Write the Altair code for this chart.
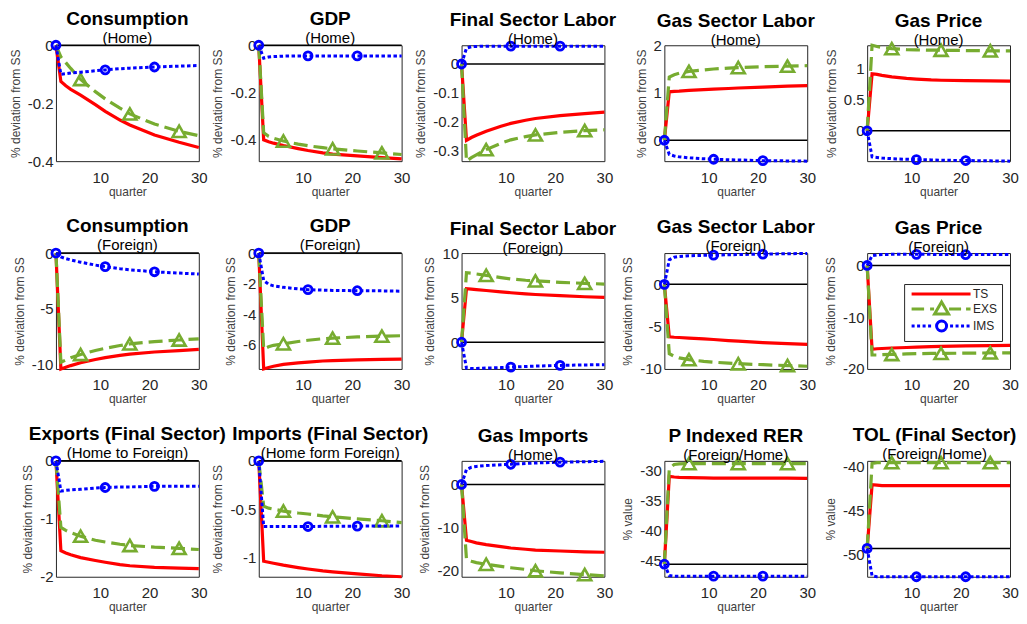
import altair as alt
import pandas as pd

FONT = "Liberation Sans"
RED = "#ff0000"
GREEN = "#77ac30"
BLUE = "#0000ff"

Q = [1, 2, 3, 4, 6, 9, 11, 14, 16, 21, 26, 30]
EXS_MARK_Q = [6, 16, 26]
IMS_MARK_Q = [1, 11, 21]
X_TICKS = [10, 20, 30]
SERIES = ["TS", "EXS", "IMS"]

# ---- Row 1 (Home)
cons_home_ts = [0, -0.125, -0.14, -0.152, -0.172, -0.205, -0.228, -0.258, -0.275, -0.31, -0.335, -0.353]
cons_home_exs = [0, -0.04, -0.06, -0.08, -0.118, -0.16, -0.185, -0.217, -0.237, -0.272, -0.297, -0.312]
cons_home_ims = [0, -0.1, -0.098, -0.096, -0.093, -0.088, -0.085, -0.081, -0.079, -0.075, -0.072, -0.07]

gdp_home_ts = [0, -0.40, -0.408, -0.414, -0.424, -0.437, -0.445, -0.455, -0.46, -0.468, -0.475, -0.48]
gdp_home_exs = [0, -0.37, -0.385, -0.393, -0.405, -0.418, -0.425, -0.433, -0.438, -0.447, -0.455, -0.462]
gdp_home_ims = [0, -0.055, -0.05, -0.048, -0.046, -0.045, -0.045, -0.045, -0.045, -0.045, -0.045, -0.045]

fsl_home_ts = [0, -0.265, -0.255, -0.247, -0.233, -0.216, -0.206, -0.195, -0.189, -0.179, -0.172, -0.167]
fsl_home_exs = [0, -0.337, -0.325, -0.315, -0.297, -0.275, -0.263, -0.252, -0.246, -0.237, -0.231, -0.228]
fsl_home_ims = [0, 0.055, 0.06, 0.061, 0.062, 0.062, 0.062, 0.062, 0.062, 0.062, 0.062, 0.062]

gsl_home_ts = [0, 1.02, 1.03, 1.035, 1.05, 1.065, 1.075, 1.09, 1.1, 1.12, 1.14, 1.15]
gsl_home_exs = [0, 1.33, 1.38, 1.41, 1.45, 1.48, 1.5, 1.52, 1.53, 1.55, 1.56, 1.57]
gsl_home_ims = [0, -0.3, -0.33, -0.35, -0.37, -0.39, -0.4, -0.41, -0.415, -0.43, -0.435, -0.44]

gp_home_ts = [0, 0.92, 0.91, 0.895, 0.87, 0.845, 0.835, 0.82, 0.815, 0.81, 0.805, 0.80]
gp_home_exs = [0, 1.38, 1.36, 1.345, 1.325, 1.31, 1.305, 1.3, 1.3, 1.295, 1.29, 1.29]
gp_home_ims = [0, -0.42, -0.43, -0.44, -0.45, -0.46, -0.465, -0.47, -0.475, -0.48, -0.485, -0.49]

# ---- Row 2 (Foreign)
cons_for_ts = [0, -10.4, -10.25, -10.1, -9.85, -9.55, -9.38, -9.18, -9.07, -8.88, -8.75, -8.65]
cons_for_exs = [0, -9.8, -9.6, -9.4, -9.1, -8.75, -8.55, -8.3, -8.15, -7.95, -7.8, -7.7]
cons_for_ims = [0, -0.35, -0.5, -0.62, -0.82, -1.08, -1.22, -1.4, -1.5, -1.68, -1.8, -1.88]

gdp_for_ts = [0, -7.6, -7.5, -7.42, -7.3, -7.2, -7.15, -7.08, -7.05, -7.0, -6.97, -6.95]
gdp_for_exs = [0, -6.3, -6.15, -6.05, -5.95, -5.8, -5.72, -5.62, -5.58, -5.5, -5.45, -5.42]
gdp_for_ims = [0, -1.8, -2.05, -2.15, -2.25, -2.35, -2.4, -2.43, -2.45, -2.47, -2.48, -2.5]

fsl_for_ts = [0, 6.0, 5.95, 5.9, 5.8, 5.65, 5.55, 5.42, 5.35, 5.22, 5.1, 5.02]
fsl_for_exs = [0, 7.8, 7.75, 7.65, 7.5, 7.25, 7.1, 6.95, 6.88, 6.72, 6.6, 6.52]
fsl_for_ims = [0, -2.9, -2.95, -2.95, -2.9, -2.85, -2.8, -2.72, -2.68, -2.6, -2.55, -2.52]

gsl_for_ts = [0, -6.2, -6.25, -6.28, -6.35, -6.45, -6.52, -6.65, -6.72, -6.88, -7.0, -7.1]
gsl_for_exs = [0, -8.2, -8.5, -8.7, -8.9, -9.1, -9.2, -9.32, -9.38, -9.5, -9.6, -9.68]
gsl_for_ims = [0, 2.9, 3.2, 3.3, 3.38, 3.43, 3.45, 3.5, 3.52, 3.58, 3.62, 3.65]

gp_for_ts = [0, -16.2, -16.1, -16.05, -15.95, -15.85, -15.8, -15.7, -15.65, -15.55, -15.5, -15.45]
gp_for_exs = [0, -17.3, -17.3, -17.25, -17.2, -17.1, -17.05, -17.0, -17.0, -16.95, -16.9, -16.9]
gp_for_ims = [0, 1.9, 2.05, 2.1, 2.15, 2.15, 2.15, 2.15, 2.1, 2.1, 2.1, 2.1]

# ---- Row 3
exp_ts = [0, -1.55, -1.59, -1.62, -1.67, -1.72, -1.75, -1.79, -1.81, -1.84, -1.85, -1.86]
exp_exs = [0, -1.15, -1.2, -1.24, -1.3, -1.37, -1.4, -1.44, -1.46, -1.49, -1.51, -1.53]
exp_ims = [0, -0.52, -0.51, -0.5, -0.49, -0.47, -0.46, -0.45, -0.45, -0.44, -0.44, -0.44]

imp_ts = [0, -1.04, -1.05, -1.06, -1.08, -1.105, -1.12, -1.14, -1.15, -1.17, -1.19, -1.2]
imp_exs = [0, -0.47, -0.49, -0.5, -0.52, -0.54, -0.55, -0.57, -0.58, -0.6, -0.62, -0.64]
imp_ims = [0, -0.68, -0.68, -0.68, -0.68, -0.68, -0.68, -0.678, -0.677, -0.676, -0.675, -0.675]

gimp_ts = [0, -13.0, -13.3, -13.6, -14.0, -14.5, -14.8, -15.1, -15.3, -15.5, -15.7, -15.8]
gimp_exs = [0, -17.5, -17.9, -18.2, -18.6, -19.1, -19.4, -19.8, -20.1, -20.6, -21.0, -21.3]
gimp_ims = [0, 3.5, 4.0, 4.2, 4.4, 4.6, 4.7, 4.9, 5.0, 5.2, 5.3, 5.4]

rer_ts = [-45.7, -31.0, -31.1, -31.15, -31.2, -31.25, -31.28, -31.3, -31.3, -31.3, -31.3, -31.32]
rer_exs = [-45.7, -29.7, -29.0, -28.9, -28.85, -28.85, -28.85, -28.85, -28.85, -28.85, -28.85, -28.85]
rer_ims = [-45.7, -47.6, -47.7, -47.7, -47.7, -47.7, -47.7, -47.7, -47.7, -47.7, -47.7, -47.7]

tol_ts = [-49.3, -42.1, -42.15, -42.2, -42.2, -42.2, -42.2, -42.2, -42.2, -42.2, -42.2, -42.2]
tol_exs = [-49.3, -39.7, -39.6, -39.6, -39.6, -39.6, -39.6, -39.6, -39.6, -39.6, -39.6, -39.6]
tol_ims = [-49.3, -52.4, -52.5, -52.5, -52.5, -52.5, -52.5, -52.5, -52.5, -52.5, -52.5, -52.5]

TITLES = ["Consumption", "GDP", "Final Sector Labor", "Gas Sector Labor", "Gas Price",
          "Consumption", "GDP", "Final Sector Labor", "Gas Sector Labor", "Gas Price",
          "Exports (Final Sector)", "Imports (Final Sector)", "Gas Imports", "P Indexed RER",
          "TOL (Final Sector)"]
TITLE_DX = [0] * 14 + [-4]
SUBTITLES = ["(Home)"] * 5 + ["(Foreign)"] * 5 + ["(Home to Foreign)", "(Home form Foreign)",
                                                  "(Home)", "(Foreign/Home)", "(Foreign/Home)"]
YLABELS = ["% deviation from SS"] * 13 + ["% value", "% value"]
Y_DOMAINS = [[-0.4, 0], [-0.49, 0], [-0.337, 0.065], [-0.44, 2], [-0.49, 1.38],
             [-10.4, 0], [-7.6, 0], [-3, 10], [-10, 3.7], [-20, 2.4],
             [-2, 0], [-1.2, 0], [-21.5, 5.5], [-47.8, -28.4], [-52.5, -39.4]]
Y_TICKS = [[-0.4, -0.2, 0], [-0.4, -0.2, 0], [-0.3, -0.2, -0.1, 0], [0, 1, 2], [0, 0.5, 1],
           [-10, -5, 0], [-6, -4, -2, 0], [0, 5, 10], [-10, -5, 0], [-20, -10, 0],
           [-2, -1, 0], [-1, -0.5, 0], [-20, -10, 0], [-45, -40, -35, -30], [-50, -45, -40]]
STEADY = [0] * 13 + [-45.7, -49.3]

PANEL_DATA = [
    (cons_home_ts, cons_home_exs, cons_home_ims),
    (gdp_home_ts, gdp_home_exs, gdp_home_ims),
    (fsl_home_ts, fsl_home_exs, fsl_home_ims),
    (gsl_home_ts, gsl_home_exs, gsl_home_ims),
    (gp_home_ts, gp_home_exs, gp_home_ims),
    (cons_for_ts, cons_for_exs, cons_for_ims),
    (gdp_for_ts, gdp_for_exs, gdp_for_ims),
    (fsl_for_ts, fsl_for_exs, fsl_for_ims),
    (gsl_for_ts, gsl_for_exs, gsl_for_ims),
    (gp_for_ts, gp_for_exs, gp_for_ims),
    (exp_ts, exp_exs, exp_ims),
    (imp_ts, imp_exs, imp_ims),
    (gimp_ts, gimp_exs, gimp_ims),
    (rer_ts, rer_exs, rer_ims),
    (tol_ts, tol_exs, tol_ims),
]
LEGEND_PANEL = 9
PANEL_W, PANEL_H = 143, 116
COL_GAP, ROW_GAP = 60, 92

# ---- legend symbol styles (line sample + marker); pixel sizes turned into symbol units
SYM_SIZE = 81
_U = (SYM_SIZE ** 0.5) / 2.0


def _p(v):
    return "%.3f" % (v / _U)


def _seg(a, b):
    return "M%s,0H%s" % (_p(a), _p(b))


LINE_L, LINE_R, MARK_C = -2.5, 56.5, 27.5
LEG_TS = _seg(LINE_L, LINE_R)
LEG_EXS = (_seg(-2.5, 10) + _seg(16, 20) + _seg(35, 47) + _seg(52, 56.5)
           + "M%s,%sL%s,%sL%s,%sZ" % (_p(MARK_C), _p(-7), _p(MARK_C + 7), _p(5),
                                       _p(MARK_C - 7), _p(5)))
_dots = ""
_pos = LINE_L
while _pos < LINE_R:
    if abs(_pos + 1.5 - MARK_C) > 7:
        _dots += _seg(_pos, _pos + 3)
    _pos += 5.5
_r = 5
LEG_IMS = _dots + "M{a},0A{r},{r},0,1,1,{b},0A{r},{r},0,1,1,{a},0".format(
    a=_p(MARK_C + _r), b=_p(MARK_C - _r), r=_p(_r))


def make_panel(i):
    ts, exs, ims = PANEL_DATA[i]
    rows = []
    for name, vals in zip(SERIES, (ts, exs, ims)):
        for q, v in zip(Q, vals):
            rows.append({"q": q, "v": v, "s": name})
    df = pd.DataFrame(rows)
    x = alt.X("q:Q", scale=alt.Scale(domain=[1, 30], nice=False, zero=False),
              axis=alt.Axis(values=X_TICKS, title="quarter", labelExpr="'' + datum.value"))
    y = alt.Y("v:Q", scale=alt.Scale(domain=Y_DOMAINS[i], nice=False, zero=False),
              axis=alt.Axis(values=Y_TICKS[i], title=YLABELS[i], labelExpr="'' + datum.value"))
    base = alt.Chart(df).encode(x=x, y=y)
    ss = alt.Chart(pd.DataFrame({"v": [STEADY[i]]})).mark_rule(
        color="black", strokeWidth=1.5).encode(y=y)
    ts_line = base.transform_filter("datum.s == 'TS'").mark_line(
        color=RED, strokeWidth=3.2)
    exs_line = base.transform_filter("datum.s == 'EXS'").mark_line(
        color=GREEN, strokeWidth=3.2, strokeDash=[14, 6])
    ims_line = base.transform_filter("datum.s == 'IMS'").mark_line(
        color=BLUE, strokeWidth=3, strokeDash=[3.5, 2.5])
    exs_pts = base.transform_filter("datum.s == 'EXS'").transform_filter(
        alt.FieldOneOfPredicate(field="q", oneOf=EXS_MARK_Q)).mark_point(
        shape="triangle-up", size=170, color=GREEN, strokeWidth=2.6, filled=False, opacity=1)
    ims_pts = base.transform_filter("datum.s == 'IMS'").transform_filter(
        alt.FieldOneOfPredicate(field="q", oneOf=IMS_MARK_Q)).mark_point(
        shape="circle", size=64, color=BLUE, strokeWidth=2.8, filled=False, opacity=1)
    layers = [ss, ts_line, exs_line, exs_pts, ims_line, ims_pts]
    if i == LEGEND_PANEL:
        col, row = i % 5, i // 5
        leg_kw = dict(orient="none",
                      legendX=col * (PANEL_W + COL_GAP) + 37,
                      legendY=row * (PANEL_H + ROW_GAP) + 31,
                      title=None,
                      labelFont=FONT, labelFontSize=12, labelColor="#262626",
                      symbolSize=SYM_SIZE, symbolStrokeWidth=3, labelOffset=53,
                      rowPadding=-5, padding=4, strokeColor="#262626",
                      fillColor="white", cornerRadius=0)
        leg = alt.Chart(df).transform_filter("datum.q < 0").mark_point(
            filled=False, strokeWidth=3, opacity=1).encode(
            x=x, y=y,
            color=alt.Color("s:N", scale=alt.Scale(domain=SERIES, range=[RED, GREEN, BLUE]),
                            legend=alt.Legend(**leg_kw)),
            shape=alt.Shape("s:N", scale=alt.Scale(domain=SERIES, range=[LEG_TS, LEG_EXS, LEG_IMS]),
                            legend=alt.Legend(**leg_kw)))
        layers.append(leg)
    return alt.layer(*layers).properties(
        width=PANEL_W, height=PANEL_H,
        title=alt.TitleParams(text=TITLES[i], subtitle=SUBTITLES[i], font=FONT,
                              fontSize=19, fontWeight="bold", color="black",
                              subtitleFont=FONT, subtitleFontSize=15, subtitleColor="black",
                              anchor="middle", frame="group", offset=-10, subtitlePadding=2,
                              dx=TITLE_DX[i]))


panels = [make_panel(i) for i in range(15)]

chart = alt.concat(*panels, columns=5, spacing={"row": ROW_GAP, "column": COL_GAP},
                   bounds="flush").properties(
    padding={"left": 0, "top": 0, "right": 0, "bottom": 0},
    background="white",
).configure_view(
    stroke="#262626", strokeWidth=1
).configure_axis(
    grid=False, domain=False, ticks=False,
    labelFont=FONT, labelFontSize=15, labelColor="#262626",
    titleFont=FONT, titleFontSize=12, titleFontWeight="normal", titleColor="#404040",
    labelFlush=False, labelOverlap=False
).configure_axisX(
    labelPadding=9, titlePadding=1
).configure_axisY(
    labelPadding=3, titlePadding=5
)

chart.save("out.html", embed_options={"renderer": "svg", "actions": False})
